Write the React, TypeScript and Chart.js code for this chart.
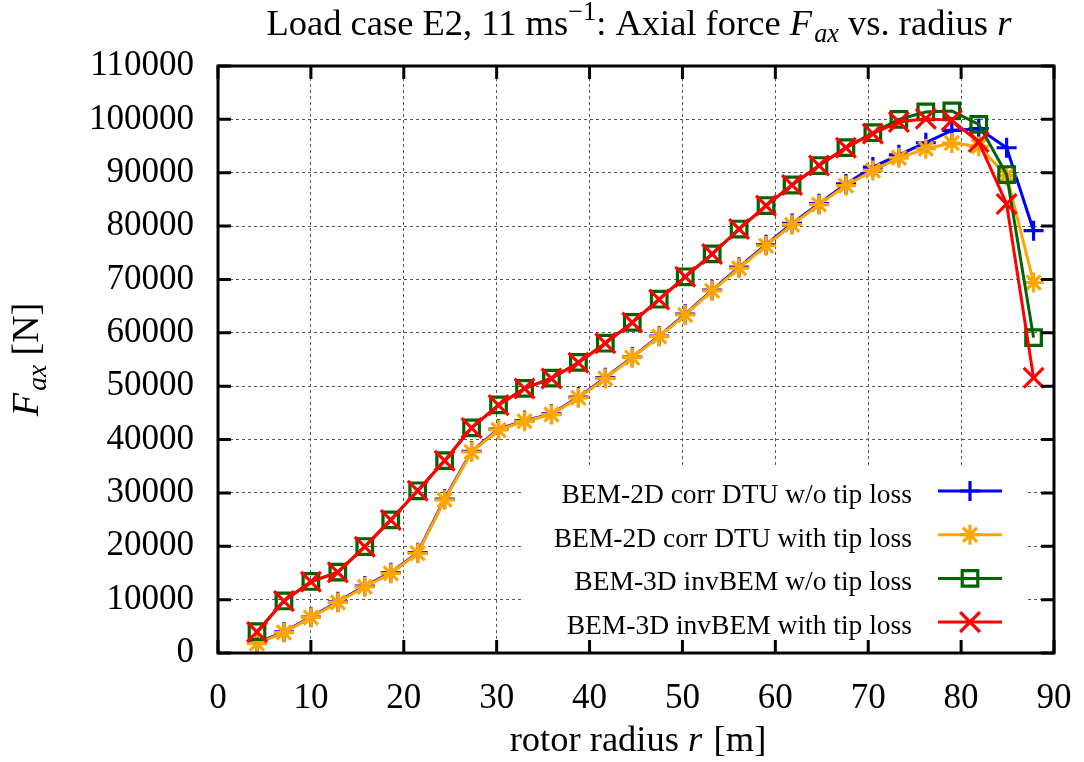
import React, { useEffect, useRef } from 'react';
import { Chart, registerables } from 'chart.js';
import { drawPoint } from 'chart.js/helpers';

Chart.register(...registerables);

// ---- data ----
const radius = [4.2, 7.1, 10.0, 12.9, 15.8, 18.6, 21.5, 24.4, 27.3, 30.2, 33.0, 35.9, 38.8, 41.7, 44.6, 47.5, 50.3, 53.2, 56.1, 59.0, 61.8, 64.7, 67.6, 70.5, 73.3, 76.2, 79.0, 81.9, 84.9, 87.8];

const bem2dNoTip = [1900, 3950, 6750, 9600, 12550, 15050, 18800, 28850, 37800, 41950, 43550, 44800, 47950, 51600, 55450, 59400, 63500, 68000, 72300, 76500, 80500, 84200, 87900, 91050, 93360, 95620, 97930, 98250, 94680, 79140];
const bem2dTip = [1770, 3830, 6650, 9470, 12410, 14920, 18680, 28700, 37670, 41800, 43420, 44680, 47820, 51450, 55340, 59290, 63350, 67860, 72130, 76320, 80260, 84020, 87590, 90410, 92800, 94490, 95560, 94920, 89470, 69430];
const bem3dNoTip = [4000, 9750, 13400, 15150, 19950, 24950, 30400, 36050, 42200, 46500, 49600, 51500, 54450, 58050, 61950, 66300, 70500, 74800, 79450, 83850, 87700, 91350, 94700, 97500, 100000, 101390, 101580, 99060, 89660, 59100];
const bem3dTip = [3950, 9720, 13350, 15110, 19920, 24940, 30390, 36030, 42180, 46450, 49570, 51450, 54400, 58030, 61920, 66250, 70500, 74760, 79450, 83830, 87700, 91350, 94680, 97310, 99510, 100130, 99810, 95750, 84150, 51580];

const seriesLabels = [
  'BEM-2D corr DTU w/o tip loss',
  'BEM-2D corr DTU with tip loss',
  'BEM-3D invBEM w/o tip loss',
  'BEM-3D invBEM with tip loss',
];

const xTicks = [0, 10, 20, 30, 40, 50, 60, 70, 80, 90];
const yTicks = [0, 10000, 20000, 30000, 40000, 50000, 60000, 70000, 80000, 90000, 100000, 110000];

const SERIF = "'Liberation Serif', 'Times New Roman', 'DejaVu Serif', serif";

type Seg = { t: string; it?: boolean; sup?: boolean; sub?: boolean };

const titleSegs: Seg[] = [
  { t: 'Load case E2, 11 ms' },
  { t: '\u22121', sup: true },
  { t: ': Axial force ' },
  { t: 'F', it: true },
  { t: 'ax', it: true, sub: true },
  { t: ' vs. radius ' },
  { t: 'r', it: true },
];
const xTitleSegs: Seg[] = [{ t: 'rotor radius ' }, { t: 'r', it: true }, { t: ' [m]' }];
const yTitleSegs: Seg[] = [{ t: 'F', it: true }, { t: 'ax', it: true, sub: true }, { t: ' [N]' }];

function drawRich(ctx: CanvasRenderingContext2D, segs: Seg[], cx: number, by: number, size: number) {
  const fontFor = (s: Seg) => `${s.it ? 'italic ' : ''}${s.sup || s.sub ? size * 0.72 : size}px ${SERIF}`;
  let total = 0;
  const widths = segs.map((s) => {
    ctx.font = fontFor(s);
    const w = ctx.measureText(s.t).width + (s.it && !s.sub ? size * 0.06 : 0);
    total += w;
    return w;
  });
  let x = cx - total / 2;
  ctx.textAlign = 'left';
  ctx.textBaseline = 'alphabetic';
  ctx.fillStyle = '#000';
  segs.forEach((s, i) => {
    ctx.font = fontFor(s);
    const dy = s.sup ? -size * 0.42 : s.sub ? size * 0.2 : 0;
    ctx.fillText(s.t, x, by + dy);
    x += widths[i];
  });
}

const decorPlugin = {
  id: 'decor',
  afterDraw(chart: any) {
    const { ctx, chartArea: a, scales } = chart;
    const xs = scales.x;
    const ys = scales.y;
    ctx.save();

    // legend (white key box, text right-aligned, sample on the right)
    ctx.fillStyle = '#fff';
    ctx.fillRect(a.right - 532, a.bottom - 185, 505, 185);
    chart.data.datasets.forEach((ds: any, i: number) => {
      const rowY = a.bottom - 162 + i * 43.7;
      ctx.font = `27.5px ${SERIF}`;
      ctx.fillStyle = '#000';
      ctx.textAlign = 'right';
      ctx.textBaseline = 'alphabetic';
      ctx.fillText(ds.label, a.right - 142, rowY + 12);
      ctx.strokeStyle = ds.borderColor;
      ctx.lineWidth = ds.borderWidth;
      ctx.setLineDash([]);
      ctx.beginPath();
      ctx.moveTo(a.right - 116, rowY);
      ctx.lineTo(a.right - 52, rowY);
      ctx.stroke();
      ctx.fillStyle = 'rgba(0,0,0,0)';
      ctx.lineWidth = ds.pointBorderWidth;
      drawPoint(ctx, { pointStyle: ds.pointStyle, radius: ds.pointRadius, rotation: 0, borderWidth: ds.pointBorderWidth }, a.right - 84, rowY);
    });

    // border box
    ctx.strokeStyle = '#000';
    ctx.lineWidth = 3;
    ctx.setLineDash([]);
    ctx.strokeRect(a.left, a.top, a.right - a.left, a.bottom - a.top);

    // inward tick marks on all four sides
    const tl = 13;
    ctx.beginPath();
    yTicks.forEach((v) => {
      const y = ys.getPixelForValue(v);
      ctx.moveTo(a.left, y);
      ctx.lineTo(a.left + tl, y);
      ctx.moveTo(a.right, y);
      ctx.lineTo(a.right - tl, y);
    });
    xTicks.forEach((v) => {
      const x = xs.getPixelForValue(v);
      ctx.moveTo(x, a.bottom);
      ctx.lineTo(x, a.bottom - tl);
      ctx.moveTo(x, a.top);
      ctx.lineTo(x, a.top + tl);
    });
    ctx.stroke();

    // titles
    const cx = (a.left + a.right) / 2;
    drawRich(ctx, titleSegs, cx + 4, 35, 36.5);
    drawRich(ctx, xTitleSegs, cx + 2, 751, 36.5);
    ctx.save();
    ctx.translate(38, (a.top + a.bottom) / 2);
    ctx.rotate(-Math.PI / 2);
    drawRich(ctx, yTitleSegs, 0, 0, 38);
    ctx.restore();

    ctx.restore();
  },
};

export default function App() {
  const ref = useRef<HTMLCanvasElement | null>(null);

  useEffect(() => {
    document.body.style.margin = '0';
    const canvas = ref.current;
    if (!canvas) return;

    const mk = (label: string, values: number[], color: string, style: string, r: number, order: number) => ({
      label,
      data: radius.map((x, i) => ({ x, y: values[i] })),
      borderColor: color,
      backgroundColor: color,
      borderWidth: 3,
      pointStyle: style,
      pointRadius: r,
      pointHoverRadius: r,
      pointBorderWidth: 3.2,
      pointBorderColor: color,
      pointBackgroundColor: 'rgba(0,0,0,0)',
      tension: 0,
      fill: false,
      order,
    });

    const tickFont = { family: SERIF, size: 35 };

    const chart = new Chart(canvas, {
      type: 'line',
      data: {
        datasets: [
          mk(seriesLabels[0], bem2dNoTip, '#0000ff', 'cross', 10, 4),
          mk(seriesLabels[1], bem2dTip, '#ffa500', 'star', 10, 3),
          mk(seriesLabels[2], bem3dNoTip, '#006400', 'rect', 11, 2),
          mk(seriesLabels[3], bem3dTip, '#ff0000', 'crossRot', 14, 1),
        ],
      } as any,
      options: {
        responsive: false,
        animation: false,
        devicePixelRatio: 1,
        layout: { padding: { top: 66, right: 30, left: 0, bottom: 0 } },
        plugins: {
          legend: { display: false },
          title: { display: false },
          tooltip: { enabled: false },
        },
        events: [],
        scales: {
          x: {
            type: 'linear',
            min: 0,
            max: 90,
            afterBuildTicks: (s: any) => {
              s.ticks = xTicks.map((v) => ({ value: v }));
            },
            afterFit: (s: any) => {
              s.height = 109;
              s.paddingLeft = 0;
              s.paddingRight = 0;
            },
            ticks: {
              font: tickFont,
              color: '#000',
              padding: 25,
              maxRotation: 0,
              autoSkip: false,
              callback: (v: any) => String(v),
            },
            grid: { color: '#555', lineWidth: 1, drawTicks: false },
            border: { display: false, dash: [3, 3] },
          },
          y: {
            type: 'linear',
            min: 0,
            max: 110000,
            afterBuildTicks: (s: any) => {
              s.ticks = yTicks.map((v) => ({ value: v }));
            },
            afterFit: (s: any) => {
              s.width = 218;
              s.paddingTop = 0;
              s.paddingBottom = 0;
            },
            ticks: {
              font: tickFont,
              color: '#000',
              padding: 24,
              autoSkip: false,
              callback: (v: any) => String(v),
            },
            grid: { color: '#555', lineWidth: 1, drawTicks: false },
            border: { display: false, dash: [3, 3] },
          },
        },
      } as any,
      plugins: [decorPlugin],
    });

    return () => chart.destroy();
  }, []);

  return <canvas ref={ref} width={1084} height={762} style={{ display: 'block', width: 1084, height: 762 }} />;
}
